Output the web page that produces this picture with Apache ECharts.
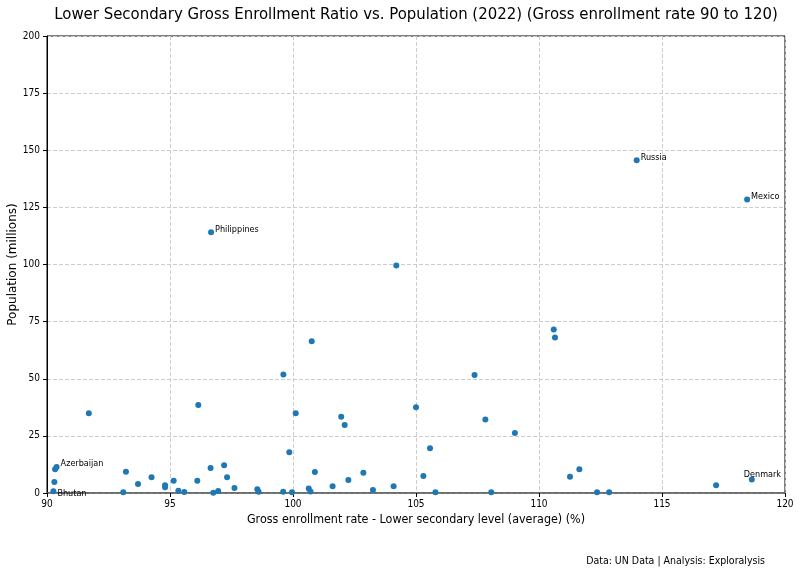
<!DOCTYPE html>
<html>
<head>
<meta charset="utf-8">
<script src="https://cdn.jsdelivr.net/npm/echarts@6/dist/echarts.min.js"></script>
<style>
  html, body { margin: 0; padding: 0; background: #fff; }
  #main { width: 800px; height: 571px; }
</style>
</head>
<body>
<div id="main"></div>
<script>
// gross enrollment rate (%) and population (millions)
var enrollment = [91.7, 96.15, 90.33, 90.39, 90.30, 90.26, 93.21, 93.70, 94.25, 94.80,
  94.80, 93.10, 95.15, 95.34, 95.58, 96.11, 96.65, 97.2, 97.32, 96.76,
  96.96, 97.62, 98.55, 98.6, 99.6, 99.96, 99.85, 100.11, 100.64, 100.71,
  100.89, 101.61, 101.96, 102.1, 102.25, 102.86, 103.25, 104.09, 105.0, 105.3,
  105.57, 105.79, 107.82, 109.02, 108.06, 111.26, 111.64, 112.36, 112.85, 117.2,
  118.65, 99.61, 100.76, 107.38, 110.6, 110.65, 96.67, 104.2, 113.97, 118.46];
var population = [34.9, 38.5, 10.4, 11.4, 4.8, 0.8, 9.3, 3.9, 6.9, 3.4,
  2.5, 0.3, 5.4, 1.0, 0.4, 5.4, 10.9, 12.1, 6.9, 0.1,
  0.9, 2.2, 1.6, 0.6, 0.6, 0.3, 17.8, 34.9, 2.0, 0.7,
  9.2, 2.9, 33.4, 29.8, 5.7, 8.9, 1.3, 2.9, 37.5, 7.4,
  19.6, 0.3, 32.2, 26.3, 0.3, 7.1, 10.4, 0.3, 0.3, 3.4,
  5.9, 51.9, 66.4, 51.6, 71.6, 68.1, 114.1, 99.6, 145.6, 128.5];
var countries = ['', '', '', 'Azerbaijan', '', 'Bhutan', '', '', '', '',
  '', '', '', '', '', '', '', '', '', '',
  '', '', '', '', '', '', '', '', '', '',
  '', '', '', '', '', '', '', '', '', '',
  '', '', '', '', '', '', '', '', '', '',
  'Denmark', '', '', '', '', '', 'Philippines', '', 'Russia', 'Mexico'];
var xTicks = [90, 95, 100, 105, 110, 115, 120];
var yTicks = [0, 25, 50, 75, 100, 125, 150, 175, 200];

var font = 'DejaVu Sans Condensed';
var chart = echarts.init(document.getElementById('main'));

// label nudges so names sit where they do in the picture
var labelOffset = { Denmark: [-12, -5], Bhutan: [0, 2] };

var points = enrollment.map(function (x, i) {
  var item = { value: [x, population[i]] };
  if (countries[i]) {
    item.label = {
      show: true,
      formatter: countries[i],
      position: 'right',
      distance: 1,
      offset: labelOffset[countries[i]] || [0, -3],
      color: '#000',
      fontSize: 9,
      fontFamily: font
    };
  }
  return item;
});

chart.setOption({
  backgroundColor: '#fff',
  animation: false,
  title: [{
    text: 'Lower Secondary Gross Enrollment Ratio vs. Population (2022) (Gross enrollment rate 90 to 120)',
    left: 411, top: 1, textAlign: 'center',
    textStyle: { fontFamily: font, fontSize: 16.6, fontWeight: 'normal', color: '#000' }
  }, {
    text: 'Data: UN Data | Analysis: Exploralysis',
    right: 30, top: 551,
    textStyle: { fontFamily: font, fontSize: 10.5, fontWeight: 'normal', color: '#000' }
  }],
  grid: {
    left: 47, right: 15, top: 36, bottom: 78,
    outerBoundsMode: 'none', containLabel: false,
    show: true, borderColor: '#000', borderWidth: 1
  },
  xAxis: {
    type: 'value', min: xTicks[0], max: xTicks[xTicks.length - 1], interval: 5,
    name: 'Gross enrollment rate - Lower secondary level (average) (%)',
    nameLocation: 'middle', nameGap: 21,
    nameTextStyle: { fontFamily: font, fontSize: 12.4, color: '#000' },
    axisLine: { show: true, lineStyle: { color: '#666', width: 1.5 } },
    axisTick: { show: true, length: 4, lineStyle: { color: '#000' } },
    axisLabel: { fontFamily: font, fontSize: 10, color: '#000', margin: 6 },
    splitLine: { show: true, lineStyle: { color: '#ccc', type: 'dashed' } }
  },
  yAxis: {
    type: 'value', min: yTicks[0], max: yTicks[yTicks.length - 1], interval: 25,
    name: 'Population (millions)',
    nameLocation: 'middle', nameGap: 28, nameMoveOverlap: false,
    nameTextStyle: { fontFamily: 'DejaVu Sans', fontSize: 12, color: '#000' },
    axisLine: { show: true, lineStyle: { color: '#000' } },
    axisTick: { show: true, length: 4, lineStyle: { color: '#000' } },
    axisLabel: { fontFamily: font, fontSize: 10, color: '#000', margin: 7 },
    splitLine: { show: true, lineStyle: { color: '#ccc', type: 'dashed' } }
  },
  series: [{
    type: 'scatter',
    symbolSize: 6,
    itemStyle: { color: '#1f77b4', opacity: 1 },
    data: points
  }]
});
</script>
</body>
</html>
